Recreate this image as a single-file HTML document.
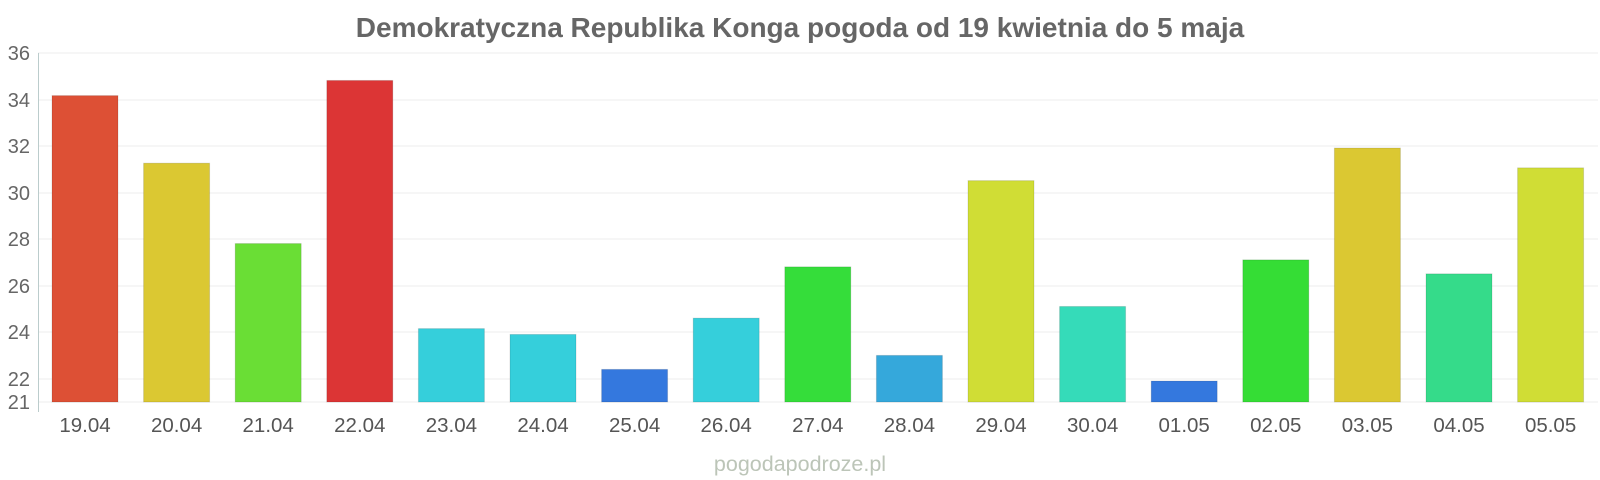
<!DOCTYPE html>
<html><head><meta charset="utf-8"><style>body{margin:0;background:#fff}svg{display:block}</style></head><body>
<svg width="1600" height="480" xmlns="http://www.w3.org/2000/svg" font-family="Liberation Sans, sans-serif">
<text x="800" y="37" text-anchor="middle" font-size="28" font-weight="bold" fill="#666">Demokratyczna Republika Konga pogoda od 19 kwietnia do 5 maja</text>
<g stroke="#eee" stroke-width="1">
<line x1="38" x2="1598" y1="53" y2="53"/><line x1="38" x2="1598" y1="100" y2="100"/><line x1="38" x2="1598" y1="146" y2="146"/><line x1="38" x2="1598" y1="193" y2="193"/><line x1="38" x2="1598" y1="239" y2="239"/><line x1="38" x2="1598" y1="286" y2="286"/><line x1="38" x2="1598" y1="332" y2="332"/><line x1="38" x2="1598" y1="379" y2="379"/><line x1="38" x2="1598" y1="402" y2="402"/>
</g>
<line x1="38.5" x2="38.5" y1="53" y2="412" stroke="#bcc" stroke-width="1"/>
<g font-size="20" fill="#666" text-anchor="end">
<text x="30" y="60">36</text><text x="30" y="107">34</text><text x="30" y="153">32</text><text x="30" y="200">30</text><text x="30" y="246">28</text><text x="30" y="293">26</text><text x="30" y="339">24</text><text x="30" y="386">22</text><text x="30" y="409">21</text>
</g>
<g id="bars"></g>
<g id="labels" font-size="20.5" fill="#555" text-anchor="middle"></g>
<text x="800" y="471" text-anchor="middle" font-size="21.5" fill="#bcc5b8">pogodapodroze.pl</text>
</svg>
<script>
var v=[34.15,31.25,27.8,34.8,24.15,23.9,22.4,24.6,26.8,23.0,30.5,25.1,21.9,27.1,31.9,26.5,31.05];
var c=["#dd5035","#dbc832","#6ade35","#dc3535","#35cfdb","#35cfdb","#3478de","#35cfdb","#35dd3a","#35a8db","#d0dd35","#35dbb9","#3478de","#35dd35","#dbc832","#35db8a","#d0dd35"];
var l=["19.04","20.04","21.04","22.04","23.04","24.04","25.04","26.04","27.04","28.04","29.04","30.04","01.05","02.05","03.05","04.05","05.05"];
var ns="http://www.w3.org/2000/svg";
var bg=document.getElementById("bars"),lg=document.getElementById("labels");
for(var i=0;i<17;i++){var x=52+i*91.6,y=402-(v[i]-21)*23.3;
var r=document.createElementNS(ns,"rect");r.setAttribute("x",x);r.setAttribute("y",y);r.setAttribute("width",66);r.setAttribute("height",402-y);r.setAttribute("fill",c[i]);r.setAttribute("stroke","rgba(0,0,0,0.12)");bg.appendChild(r);
var tx=document.createElementNS(ns,"text");tx.setAttribute("x",x+33);tx.setAttribute("y",432);tx.textContent=l[i];lg.appendChild(tx);}
</script>
</body></html>
